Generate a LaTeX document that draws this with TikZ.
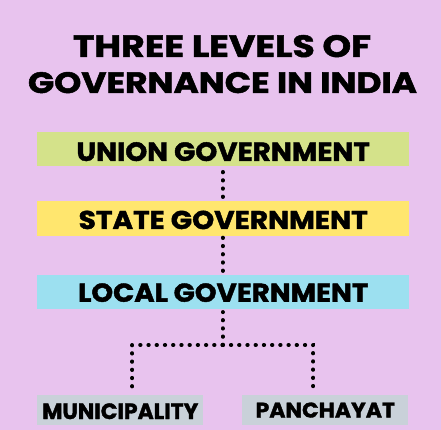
\documentclass[tikz,border=0pt]{standalone}
\usepackage{graphicx}
\usepackage{fontspec}
\setmainfont{Poppins}[BoldFeatures={FakeBold=1.6}]
\definecolor{bgpink}{HTML}{E8C3EE}
\definecolor{ugreen}{HTML}{D4E28A}
\definecolor{syellow}{HTML}{FFE66E}
\definecolor{lblue}{HTML}{9CE0F0}
\definecolor{bgray}{HTML}{C9D1D9}
\tikzset{
  lvlbox/.style={rectangle, inner sep=0pt, outer sep=0pt, text depth=0pt},
  dotline/.style={line width=4pt, line cap=round, dash pattern=on 0.3pt off 7.92pt, black},
  titletext/.style={inner sep=0pt, outer sep=0pt, text depth=0pt}
}
\newcommand{\fitcaps}[3]{\resizebox{#1}{#2}{\bfseries #3}}
\begin{document}
\begin{tikzpicture}[x=1pt,y=-1pt]
\fill[bgpink] (0,0) rectangle (441,430);
\useasboundingbox (0,0) rectangle (441,430);
% title
\node[titletext] (t1) at (222,46) {\fitcaps{298pt}{22pt}{THREE LEVELS OF}};
\node[titletext] (t2) at (222.5,82.5) {\fitcaps{389pt}{21pt}{GOVERNANCE IN INDIA}};
% level boxes
\node[lvlbox, fill=ugreen, minimum width=371.7pt, minimum height=34pt, text height=23.2pt] (union) at (223.2,149.3) {\fitcaps{293.3pt}{18.7pt}{UNION GOVERNMENT}};
\node[lvlbox, fill=syellow, minimum width=371.7pt, minimum height=34.7pt, text height=21.3pt] (state) at (223.2,218.35) {\fitcaps{289pt}{18.3pt}{STATE GOVERNMENT}};
\node[lvlbox, fill=lblue, minimum width=371.7pt, minimum height=34.3pt, text height=19.2pt] (local) at (223.2,292.15) {\fitcaps{290pt}{18.4pt}{LOCAL GOVERNMENT}};
\node[lvlbox, fill=bgray, minimum width=166pt, minimum height=30pt, text height=18pt] (muni) at (120.3,410) {\fitcaps{156pt}{15.7pt}{MUNICIPALITY}};
\node[lvlbox, fill=bgray, minimum width=166pt, minimum height=30pt, text height=15pt] (panch) at (325.3,410) {\fitcaps{139.4pt}{15pt}{PANCHAYAT}};
% connectors
\coordinate (j) at (222.7,345);
\draw[dotline] ([xshift=-0.5pt,yshift=-5.7pt]union.south) -- ([xshift=-0.5pt,yshift=3.8pt]state.north);
\draw[dotline] ([xshift=-0.5pt,yshift=-2pt]state.south) -- ([xshift=-0.5pt,yshift=3.9pt]local.north);
\draw[dotline] (j) -- ([xshift=-0.5pt,yshift=-2.8pt]local.south);
\draw[dotline] (j) -| ([xshift=12pt,yshift=8.0pt]muni.north);
\draw[dotline] (j) -| ([xshift=-12pt,yshift=8.0pt]panch.north);
\end{tikzpicture}
\end{document}
